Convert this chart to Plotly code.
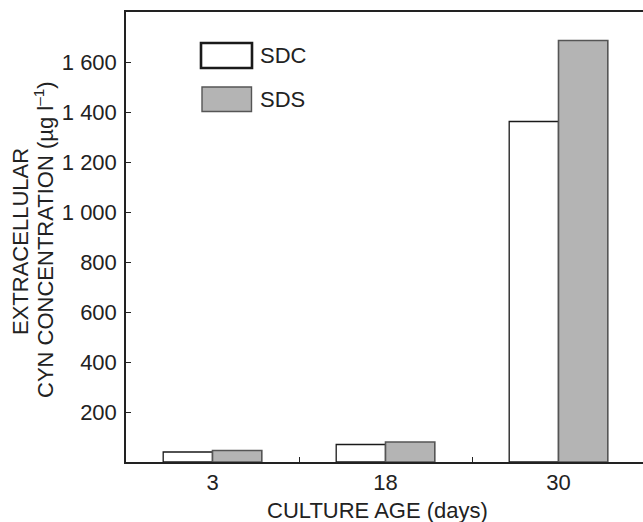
import plotly.graph_objects as go

# ---- data ----
categories = ["3", "18", "30"]
sdc_values = [40, 70, 1362]
sds_values = [46, 80, 1686]
y_tick_values = [200, 400, 600, 800, 1000, 1200, 1400, 1600]
y_tick_labels = ["200", "400", "600", "800", "1 000", "1 200", "1 400", "1 600"]
series_names = ["SDC", "SDS"]

W, H = 643, 522
L, T, B, R = 126, 12, 60, 0
PW, PH = W - L - R, H - T - B

def px(x):
    return (x - L) / PW

def py(y):
    return (H - B - y) / PH

FONT = "Liberation Sans, Arial, sans-serif"
AX = "#222222"
GRAY = "#b4b4b4"

xpos = list(range(len(categories)))

fig = go.Figure()
fig.add_trace(go.Bar(
    x=xpos, y=sdc_values, name=series_names[0],
    marker=dict(color="white", line=dict(color="#1a1a1a", width=1.3)),
    showlegend=False,
))
fig.add_trace(go.Bar(
    x=xpos, y=sds_values, name=series_names[1],
    marker=dict(color=GRAY, line=dict(color="#555555", width=1.6)),
    showlegend=False,
))

fig.update_layout(
    width=W, height=H,
    margin=dict(l=L, r=R, t=T, b=B),
    paper_bgcolor="white", plot_bgcolor="white",
    barmode="group", bargap=0.43, bargroupgap=0,
    font=dict(family=FONT, size=22, color="#222222"),
    xaxis=dict(
        range=[-0.5, -0.5 + PW / 173.0],
        tickmode="array", tickvals=xpos, ticktext=categories,
        ticks="", showgrid=False, zeroline=False,
        showline=True, linecolor=AX, linewidth=1.5, mirror=True,
        tickfont=dict(size=22),
        ticklabelstandoff=0,
        minor=dict(tickvals=[0.5, 1.5], ticks="inside", ticklen=5,
                   tickcolor=AX, tickwidth=1.3, showgrid=False),
    ),
    yaxis=dict(
        range=[0, 1800],
        tickmode="array", tickvals=y_tick_values, ticktext=y_tick_labels,
        ticks="inside", ticklen=5, tickcolor=AX, tickwidth=1.3,
        showgrid=False, zeroline=False,
        showline=True, linecolor=AX, linewidth=1.5, mirror=False,
        tickfont=dict(size=22),
        ticklabelstandoff=3,
    ),
)

# axis titles as annotations for precise placement
fig.add_annotation(text="CULTURE AGE (days)", xref="paper", yref="paper",
                   x=px(377), y=py(510), showarrow=False,
                   xanchor="center", yanchor="middle", font=dict(size=22))
fig.add_annotation(text="EXTRACELLULAR", xref="paper", yref="paper",
                   x=px(21), y=py(242), showarrow=False, textangle=-90,
                   xanchor="center", yanchor="middle", font=dict(size=22))
fig.add_annotation(text="CYN CONCENTRATION (µg l<sup>–1</sup>)", xref="paper", yref="paper",
                   x=px(44), y=py(240), showarrow=False, textangle=-90,
                   xanchor="center", yanchor="middle", font=dict(size=22))

# legend drawn manually to match the wide swatches
fig.add_shape(type="rect", xref="paper", yref="paper",
              x0=px(201), x1=px(252), y0=py(68), y1=py(43),
              fillcolor="white", line=dict(color="#1a1a1a", width=2.6))
fig.add_shape(type="rect", xref="paper", yref="paper",
              x0=px(202), x1=px(251.5), y0=py(111.5), y1=py(87),
              fillcolor=GRAY, line=dict(color="#555555", width=1.4))
fig.add_annotation(text=series_names[0], xref="paper", yref="paper",
                   x=px(258), y=py(56), showarrow=False,
                   xanchor="left", yanchor="middle", font=dict(size=22))
fig.add_annotation(text=series_names[1], xref="paper", yref="paper",
                   x=px(258), y=py(99), showarrow=False,
                   xanchor="left", yanchor="middle", font=dict(size=22))

fig.write_html(
    "out.html",
    config={"displayModeBar": False},
    post_script="document.body.style.margin='0';"
                "document.documentElement.style.overflow='hidden';"
                "document.body.style.overflow='hidden';",
)
